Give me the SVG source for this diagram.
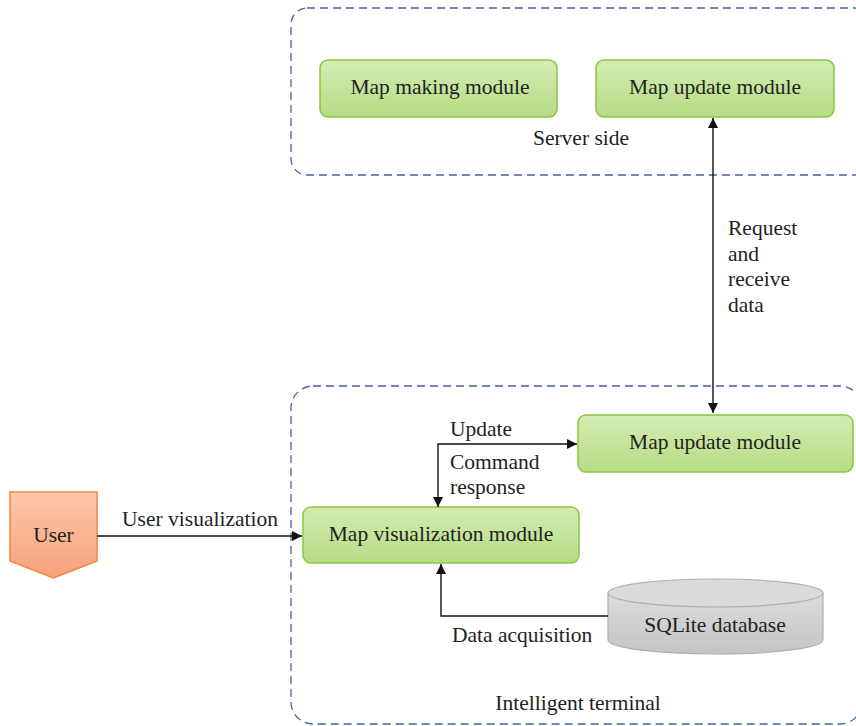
<svg xmlns="http://www.w3.org/2000/svg" width="856" height="726" viewBox="0 0 856 726">
  <defs>
    <linearGradient id="green" x1="0" y1="0" x2="0" y2="1">
      <stop offset="0" stop-color="#d3ecb2"/>
      <stop offset="1" stop-color="#b6dc85"/>
    </linearGradient>
    <linearGradient id="orange" x1="0" y1="0" x2="0" y2="1">
      <stop offset="0" stop-color="#fcc7a9"/>
      <stop offset="1" stop-color="#f7a27b"/>
    </linearGradient>
    <linearGradient id="grey" x1="0" y1="0" x2="0" y2="1">
      <stop offset="0" stop-color="#dcdcdc"/>
      <stop offset="1" stop-color="#c4c4c4"/>
    </linearGradient>
    <marker id="arrow" viewBox="0 0 10 10" refX="10" refY="5" markerWidth="10" markerHeight="10" markerUnits="userSpaceOnUse" orient="auto-start-reverse">
      <path d="M0,0 L10,5 L0,10 Z" fill="#111"/>
    </marker>
  </defs>
  <style>
    text { font-family: "Liberation Serif", "Times New Roman", serif; font-size: 21.5px; fill: #231f20; }
    .mid { text-anchor: middle; }
    .module { fill: url(#green); stroke: #8cc63f; stroke-width: 1.5; }
    .region { fill: none; stroke: #4a5f9e; stroke-width: 1.3; stroke-dasharray: 8 5; }
    .link { fill: none; stroke: #111; stroke-width: 1.4; }
  </style>

  <rect width="856" height="726" fill="#ffffff"/>

  <!-- Server side region -->
  <g id="server-side">
    <rect class="region" x="291" y="8" width="580" height="167" rx="16"/>
    <text class="mid" x="581" y="145">Server side</text>
  </g>

  <!-- Intelligent terminal region -->
  <g id="intelligent-terminal">
    <rect class="region" x="291" y="386" width="571" height="338" rx="22"/>
    <text class="mid" x="578" y="710">Intelligent terminal</text>
  </g>

  <g id="map-making-module">
    <rect class="module" x="320" y="60" width="237" height="57" rx="8"/>
    <text class="mid" x="440" y="94">Map making module</text>
  </g>

  <g id="server-map-update-module">
    <rect class="module" x="596" y="60" width="238" height="57" rx="8"/>
    <text class="mid" x="715" y="94">Map update module</text>
  </g>

  <g id="terminal-map-update-module">
    <rect class="module" x="578" y="415" width="275" height="57" rx="8"/>
    <text class="mid" x="715" y="449">Map update module</text>
  </g>

  <g id="map-visualization-module">
    <rect class="module" x="303" y="507" width="276" height="56" rx="8"/>
    <text class="mid" x="441" y="541">Map visualization module</text>
  </g>

  <g id="user">
    <path d="M10,492 H97 V561 L53.5,578 L10,561 Z" fill="url(#orange)" stroke="#f0883e" stroke-width="1.5"/>
    <text class="mid" x="53.5" y="542">User</text>
  </g>

  <g id="sqlite-database">
    <path d="M608,593 V640 A107.5,14 0 0 0 823,640 V593" fill="url(#grey)" stroke="#b0b0b0" stroke-width="1.2"/>
    <ellipse cx="715.5" cy="593" rx="107.5" ry="14" fill="#dadada" stroke="#b0b0b0" stroke-width="1.2"/>
    <text class="mid" x="715" y="632">SQLite database</text>
  </g>

  <!-- Connectors -->
  <g id="connectors">
    <line class="link" x1="713" y1="118" x2="713" y2="413" marker-start="url(#arrow)" marker-end="url(#arrow)"/>
    <text x="728" y="235">Request</text>
    <text x="728" y="261">and</text>
    <text x="728" y="286">receive</text>
    <text x="728" y="312">data</text>

    <polyline class="link" points="438,507 438,444 577,444" marker-start="url(#arrow)" marker-end="url(#arrow)"/>
    <text x="450" y="436">Update</text>
    <text x="450" y="469">Command</text>
    <text x="450" y="494">response</text>

    <line class="link" x1="97" y1="536" x2="302" y2="536" marker-end="url(#arrow)"/>
    <text class="mid" x="200" y="526">User visualization</text>

    <polyline class="link" points="608,616 441,616 441,564" marker-end="url(#arrow)"/>
    <text x="452" y="642">Data acquisition</text>
  </g>
</svg>
